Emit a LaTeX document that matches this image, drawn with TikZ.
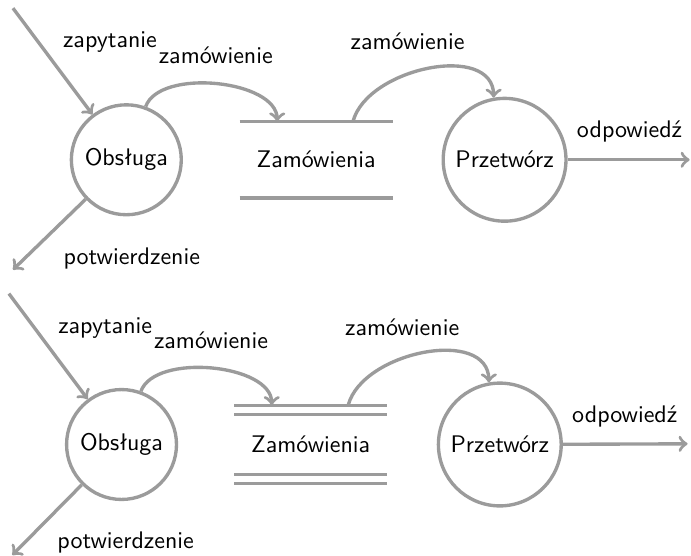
\documentclass[tikz,border=0pt]{standalone}
\usepackage{tikz}
\definecolor{flowgray}{RGB}{155,155,155}

\begin{document}
\begin{tikzpicture}[
    proc/.style={circle, draw=flowgray, line width=1.4pt, inner sep=4pt, font=\sffamily},
    store/.style={inner sep=0pt, minimum width=2.23cm, font=\sffamily},
    flow/.style={->, draw=flowgray, line width=1.4pt},
    storeline/.style={draw=flowgray, line width=1.4pt},
    lbl/.style={font=\sffamily}]
    \useasboundingbox (0,0) rectangle (10.12,-8.14);
    % Nodes (upper diagram)
    \node[proc] (obs1) at (1.85,-2.34) {Obsługa};
    \node[store, minimum height=1.11cm] (zam1) at (4.63,-2.34) {Zamówienia};
    \node[proc] (prz1) at (7.39,-2.34) {Przetwórz};
    \coordinate (c1) at (0.19,-0.12);
    \coordinate (o1) at (0.19,-3.95);
    \coordinate (r1) at (10.10,-2.34);
    % Labels
    \node[lbl] (zap1) at (1.61,-0.61) {zapytanie};
    \node[lbl] (zamA1) at (3.16,-0.81) {zamówienie};
    \node[lbl] (zamB1) at (5.97,-0.61) {zamówienie};
    \node[lbl] (odp1) at (9.22,-1.93) {odpowiedź};
    \node[lbl] (pot1) at (1.93,-3.78) {potwierdzenie};
    % Edges
    \draw[storeline] (zam1.north west) -- (zam1.north east);
    \draw[storeline] (zam1.south west) -- (zam1.south east);
    \draw[flow] (c1) -- (obs1);
    \draw[flow] (obs1) -- (o1);
    \draw[flow] (obs1.70) to[out=70, in=90, looseness=0.8] ([xshift=-0.57cm]zam1.north);
    \draw[flow] ([xshift=0.54cm]zam1.north) to[out=75, in=90] (prz1.100);
    \draw[flow] (prz1) -- (r1);

    % Nodes (lower diagram)
    \node[proc] (obs2) at (1.78,-6.51) {Obsługa};
    \node[store, minimum height=1.0cm] (zam2) at (4.55,-6.51) {Zamówienia};
    \node[proc] (prz2) at (7.32,-6.51) {Przetwórz};
    \coordinate (c2) at (0.13,-4.30);
    \coordinate (o2) at (0.18,-8.13);
    \coordinate (r2) at (10.07,-6.50);
    % Labels
    \node[lbl] (zap2) at (1.54,-4.80) {zapytanie};
    \node[lbl] (zamA2) at (3.09,-4.99) {zamówienie};
    \node[lbl] (zamB2) at (5.89,-4.79) {zamówienie};
    \node[lbl] (odp2) at (9.15,-6.10) {odpowiedź};
    \node[lbl] (pot2) at (1.84,-7.95) {potwierdzenie};
    % Edges
    \draw[storeline, double=white, double distance=2.5pt] (zam2.north west) -- (zam2.north east);
    \draw[storeline, double=white, double distance=2.5pt] (zam2.south west) -- (zam2.south east);
    \draw[flow] (c2) -- (obs2);
    \draw[flow] (obs2) -- (o2);
    \draw[flow] (obs2.70) to[out=70, in=90, looseness=0.8] ([xshift=-0.57cm, yshift=2pt]zam2.north);
    \draw[flow] ([xshift=0.55cm, yshift=2pt]zam2.north) to[out=75, in=90] (prz2.100);
    \draw[flow] (prz2) -- (r2);
\end{tikzpicture}
\end{document}
